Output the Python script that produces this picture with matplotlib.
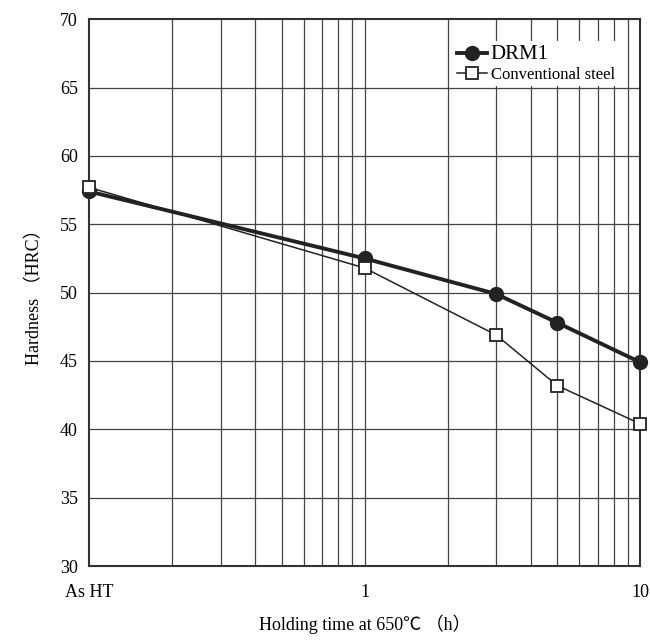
import numpy as np
import matplotlib
matplotlib.use("Agg")
import matplotlib.pyplot as plt

# holding time (h); "As HT" is placed at 0.1 on the log axis
times = [0.1, 1, 3, 5, 10]
drm1 = [57.4, 52.5, 49.9, 47.8, 44.9]
conventional = [57.7, 51.8, 46.9, 43.2, 40.4]

x_tick_pos = [0.1, 1, 10]
x_tick_labels = ["As HT", "1", "10"]
y_ticks = [30, 35, 40, 45, 50, 55, 60, 65, 70]

plt.rcParams['font.family'] = ['Liberation Serif', 'Noto Sans CJK JP']

fig = plt.figure(figsize=(6.5, 6.41), dpi=100)
ax = fig.add_axes([0.137, 0.117, 0.848, 0.853])

ax.set_xscale("log")
ax.set_xlim(0.1, 10)
ax.set_ylim(30, 70)

# grid lines on every minor decade step
minor = [m * d for d in (0.1, 1) for m in range(2, 10)] + [1]
for xv in minor:
    ax.axvline(xv, color="#444444", lw=0.9, zorder=1)
for yv in y_ticks[1:-1]:
    ax.axhline(yv, color="#444444", lw=0.9, zorder=1)

ax.plot(times, drm1, color="#222222", lw=2.8, marker="o", ms=10,
        mfc="#222222", mec="#222222", label="DRM1", zorder=3, clip_on=False)
ax.plot(times, conventional, color="#222222", lw=1.1, marker="s", ms=9,
        mfc="white", mec="#222222", mew=1.3, label="Conventional steel",
        zorder=4, clip_on=False)

ax.set_xticks(x_tick_pos)
ax.set_xticklabels(x_tick_labels)
ax.xaxis.set_minor_locator(matplotlib.ticker.NullLocator())
ax.set_yticks(y_ticks)
ax.tick_params(length=0, labelsize=13)
ax.tick_params(axis="x", pad=13)
ax.tick_params(axis="y", pad=8)

for sp in ax.spines.values():
    sp.set_color("#333333")
    sp.set_linewidth(1.5)

ax.set_xlabel("Holding time at 650℃ （h）", fontsize=13)
ax.xaxis.set_label_coords(0.5, -0.088)
ax.set_ylabel("Hardness （HRC）", fontsize=13, labelpad=12)

leg = ax.legend(loc="upper right", bbox_to_anchor=(0.975, 0.975), frameon=True,
                fontsize=12, handlelength=1.8, handletextpad=0.2,
                borderpad=0.2, labelspacing=0.2)
leg.get_frame().set_edgecolor("none")
leg.get_frame().set_facecolor("white")
leg.get_frame().set_alpha(1)
leg.set_zorder(5)
leg.get_texts()[0].set_fontsize(15)

fig.savefig("out.png", dpi=100, facecolor="white")
